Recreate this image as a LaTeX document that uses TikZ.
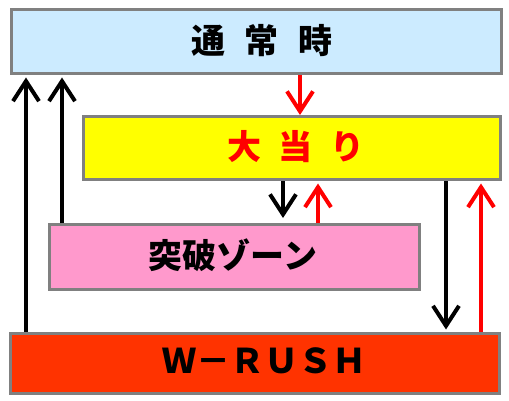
\documentclass[tikz,border=0pt]{standalone}
\usepackage{fontspec}
\newfontfamily\cjk{Noto Sans CJK JP}
\usetikzlibrary{arrows.meta}
\definecolor{boxgray}{HTML}{808080}
\definecolor{skyfill}{HTML}{CCEBFF}
\definecolor{yelfill}{HTML}{FFFF00}
\definecolor{pinkfill}{HTML}{FF99CC}
\definecolor{rushfill}{HTML}{FF3300}
\definecolor{arrred}{HTML}{FF0000}
\tikzset{
  stbox/.style={draw=boxgray, line width=3pt, rectangle, inner sep=0pt, anchor=north west},
  lbl/.style={font=\cjk\bfseries\fontsize{34}{40}\selectfont, inner sep=0pt},
  arr/.style={line width=4pt, -{Straight Barb[length=20pt,width=26pt,line width=4pt]}},
  blk/.style={arr, black},
  rd/.style={arr, arrred},
}
\begin{document}
\begin{tikzpicture}[x=1pt,y=-1pt]
\useasboundingbox (0,0) rectangle (509,401);
% boxes (centre-line corners)
\node[stbox, fill=skyfill, minimum width=490pt, minimum height=64pt] (tsu) at (9.5,8.5) {};
\node[stbox, fill=yelfill, minimum width=416.5pt, minimum height=63.5pt] (oh) at (82,115) {};
\node[stbox, fill=pinkfill, minimum width=370pt, minimum height=64.5pt] (tp) at (48,223) {};
\node[stbox, fill=rushfill, minimum width=489.5pt, minimum height=60pt] (wr) at (8.5,331.5) {};
% labels
\node[lbl] (tsuT) at (262,40.5) {通\hspace{20pt}常\hspace{20pt}時};
\node[lbl, text=arrred] (ohT) at (296,147) {大\hspace{18pt}当\hspace{18pt}り};
\node[lbl] (tpT) at (233,255) {突破ゾーン};
\node[lbl] (wrT) at (264,361) {Ｗ－ＲＵＳＨ};
% arrow columns
\coordinate (c1) at (26,0);
\coordinate (c2) at (62,0);
\coordinate (c3) at (300,0);
\coordinate (c4) at (283,0);
\coordinate (c5) at (318,0);
\coordinate (c6) at (446,0);
\coordinate (c7) at (481,0);
% arrows
\draw[blk, shorten >=2pt] (c1 |- wr.north) -- (c1 |- tsu.south);
\draw[blk, shorten >=2pt] (c2 |- tp.north) -- (c2 |- tsu.south);
\draw[rd] (c3 |- tsu.south) -- (c3 |- oh.north);
\draw[blk, shorten >=5pt] (c4 |- oh.south) -- (c4 |- tp.north);
\draw[rd, shorten >=2pt] (c5 |- tp.north) -- (c5 |- oh.south);
\draw[blk, shorten >=2pt] (c6 |- oh.south) -- (c6 |- wr.north);
\draw[rd, shorten >=2pt] (c7 |- wr.north) -- (c7 |- oh.south);
\end{tikzpicture}
\end{document}
